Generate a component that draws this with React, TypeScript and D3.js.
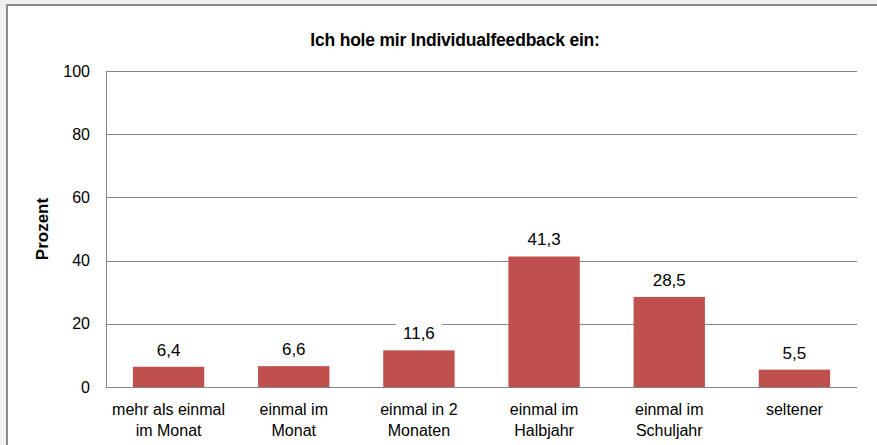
import React from 'react';
import * as d3 from 'd3';

// data
const categories = [
  ['mehr als einmal', 'im Monat'],
  ['einmal im', 'Monat'],
  ['einmal in 2', 'Monaten'],
  ['einmal im', 'Halbjahr'],
  ['einmal im', 'Schuljahr'],
  ['seltener'],
];
const values = [6.4, 6.6, 11.6, 41.3, 28.5, 5.5];
const yTicks = [0, 20, 40, 60, 80, 100];
const title = 'Ich hole mir Individualfeedback ein:';
const yTitle = 'Prozent';

const W = 877;
const H = 445;
const margin = { top: 71, right: 20, bottom: 58, left: 106 };
const font = 'Arial, "Liberation Sans", sans-serif';

export default function App() {
  const innerW = W - margin.left - margin.right;
  const innerH = H - margin.top - margin.bottom;

  const x = d3.scaleBand<number>()
    .domain(values.map((_, i) => i))
    .range([margin.left, margin.left + innerW])
    .paddingInner(0.43)
    .paddingOuter(0.215);
  const y = d3.scaleLinear().domain([0, 100]).range([margin.top + innerH, margin.top]);

  const fmt = (v: number) => v.toFixed(1).replace('.', ',');

  return (
    <svg width={W} height={H} style={{ position: 'absolute', left: 0, top: 0, display: 'block' }}>
      <rect x={0} y={0} width={W} height={H} fill="#f0f0f0" />
      <rect x={7} y={5} width={W + 20} height={H + 20} fill="#ffffff" stroke="#8c8c8c" strokeWidth={2} />

      <text x={455} y={46} textAnchor="middle" fontFamily={font} fontWeight="bold" fontSize={17.5}
        letterSpacing={-0.2} fill="#000">
        {title}
      </text>

      {/* gridlines */}
      {yTicks.map((t) => (
        <line key={t} x1={margin.left} x2={margin.left + innerW} y1={Math.round(y(t)) + 0.5} y2={Math.round(y(t)) + 0.5}
          stroke="#868686" strokeWidth={1} />
      ))}
      {/* axis line */}
      <line x1={margin.left + 0.5} x2={margin.left + 0.5} y1={y(100)} y2={y(0)} stroke="#868686" strokeWidth={1} />

      {/* y tick labels */}
      {yTicks.map((t) => (
        <text key={t} x={90} y={y(t)} dy="0.35em" textAnchor="end" fontFamily={font} fontSize={16} fill="#000">
          {t}
        </text>
      ))}

      <text transform={`translate(48,${(y(0) + y(100)) / 2}) rotate(-90)`} textAnchor="middle"
        fontFamily={font} fontWeight="bold" fontSize={17} fill="#000">
        {yTitle}
      </text>

      {/* bars */}
      {values.map((v, i) => (
        <rect key={i} x={x(i)} y={y(v)} width={x.bandwidth()} height={y(0) - y(v)} fill="#c0504d" />
      ))}

      {/* value labels */}
      {values.map((v, i) => {
        const cx = (x(i) as number) + x.bandwidth() / 2;
        return (
          <g key={i}>
            <rect x={cx - 23} y={y(v) - 28} width={46} height={22} fill="#ffffff" />
            <text x={cx} y={y(v) - 11} textAnchor="middle" fontFamily={font} fontSize={17} fill="#000">
              {fmt(v)}
            </text>
          </g>
        );
      })}

      {/* bottom axis line */}
      <line x1={margin.left} x2={margin.left + innerW} y1={Math.round(y(0)) + 0.5} y2={Math.round(y(0)) + 0.5}
        stroke="#868686" strokeWidth={1} />

      {/* category labels */}
      {categories.map((lines, i) => {
        const cx = (x(i) as number) + x.bandwidth() / 2;
        return (
          <text key={i} x={cx} y={415} textAnchor="middle" fontFamily={font} fontSize={16} fill="#000">
            {lines.map((l, j) => (
              <tspan key={j} x={cx} dy={j === 0 ? 0 : 21}>{l}</tspan>
            ))}
          </text>
        );
      })}
    </svg>
  );
}
